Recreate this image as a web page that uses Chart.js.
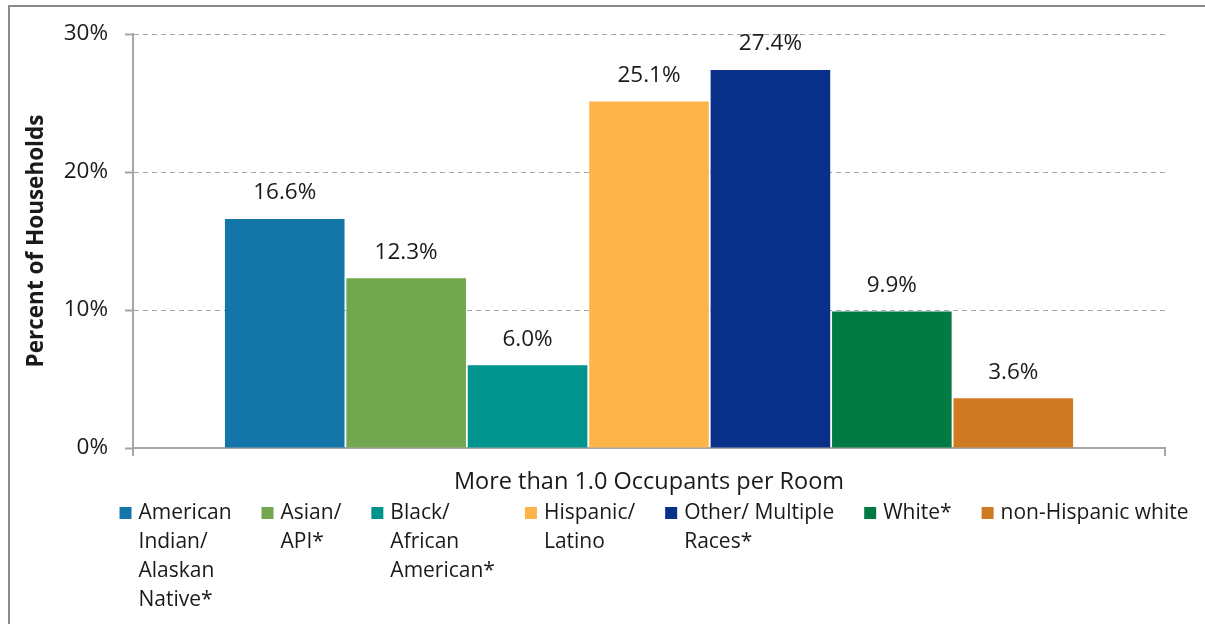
<!DOCTYPE html>
<html>
<head>
<meta charset="utf-8">
<script src="https://cdn.jsdelivr.net/npm/chart.js@4.4.0/dist/chart.umd.min.js"></script>
<style>
  html, body { margin: 0; padding: 0; background: #fff; }
  #wrap { width: 1205px; height: 624px; }
</style>
</head>
<body>
<div id="wrap"><canvas id="myChart" width="1205" height="624"></canvas></div>
<script>
const categories = ['More than 1.0 Occupants per Room']
const groups = [
  'American Indian/ Alaskan Native*',
  'Asian/ API*',
  'Black/ African American*',
  'Hispanic/ Latino',
  'Other/ Multiple Races*',
  'White*',
  'non-Hispanic white',
]
// legend text as it wraps in the original
const legendLines = [
  ['American', 'Indian/', 'Alaskan', 'Native*'],
  ['Asian/', 'API*'],
  ['Black/', 'African', 'American*'],
  ['Hispanic/', 'Latino'],
  ['Other/ Multiple', 'Races*'],
  ['White*'],
  ['non-Hispanic white'],
]
const values = [16.6, 12.3, 6.0, 25.1, 27.4, 9.9, 3.6]
const colors = ['#1475A9', '#72A74F', '#00948F', '#FDB54A', '#0A318A', '#017A44', '#D07A24']
const yMin = 0
const yMax = 30
const yStep = 10

const FONT = '"Open Sans", Lato, sans-serif'
const TEXT = '#1a1a1a'
const GRID = '#a6a6a6'

// light frame round the chart
const framePlugin = {
  id: 'frame',
  beforeDraw(chart) {
    const ctx = chart.ctx
    ctx.save()
    ctx.fillStyle = '#fff'
    ctx.fillRect(0, 0, chart.width, chart.height)
    ctx.strokeStyle = '#8c8c8c'
    ctx.lineWidth = 2
    ctx.strokeRect(9, 6, chart.width + 50, chart.height + 50)
    ctx.restore()
  },
}

// value labels above the bars
const barLabels = {
  id: 'barLabels',
  afterDatasetsDraw(chart) {
    const ctx = chart.ctx
    ctx.save()
    ctx.font = '22.5px ' + FONT
    ctx.fillStyle = TEXT
    ctx.textAlign = 'center'
    ctx.textBaseline = 'middle'
    chart.data.datasets.forEach((ds, i) => {
      const meta = chart.getDatasetMeta(i)
      meta.data.forEach((bar, j) => {
        ctx.fillText(ds.data[j].toFixed(1) + '%', bar.x, bar.y - 26)
      })
    })
    ctx.restore()
  },
}

// legend with wrapped labels, laid out in a row under the axis
const wrapLegend = {
  id: 'wrapLegend',
  afterDraw(chart) {
    const ctx = chart.ctx
    const box = 12
    const boxGap = 7
    const itemGap = 30
    const lineH = 29
    const top = 513
    ctx.save()
    ctx.font = '21px ' + FONT
    ctx.textBaseline = 'middle'
    ctx.textAlign = 'left'
    const widths = legendLines.map((lines) => Math.max(...lines.map((l) => ctx.measureText(l).width)))
    const total = widths.reduce((a, w) => a + box + boxGap + w, 0) + itemGap * (widths.length - 1)
    const mid = (chart.chartArea.left + chart.chartArea.right) / 2 + 5
    let x = mid - total / 2
    chart.data.datasets.forEach((ds, i) => {
      ctx.fillStyle = ds.backgroundColor
      ctx.fillRect(x, top - box / 2, box, box)
      ctx.fillStyle = TEXT
      legendLines[i].forEach((line, k) => {
        ctx.fillText(line, x + box + boxGap, top + k * lineH)
      })
      x += box + boxGap + widths[i] + itemGap
    })
    ctx.restore()
  },
}

const ctx = document.getElementById('myChart').getContext('2d')
const chart = new Chart(ctx, {
  type: 'bar',
  data: {
    labels: categories,
    datasets: groups.map((name, i) => ({
      label: name,
      data: [values[i]],
      backgroundColor: colors[i],
      borderWidth: 0,
      barPercentage: 0.985,
      categoryPercentage: 0.8236,
    })),
  },
  options: {
    responsive: false,
    animation: false,
    devicePixelRatio: 1,
    layout: { padding: { left: 10, right: 40, top: 34, bottom: 126 } },
    plugins: {
      legend: { display: false },
      tooltip: { enabled: false },
    },
    scales: {
      x: {
        afterFit(scale) { scale.height = 50 },
        grid: { display: true, drawOnChartArea: false, drawTicks: true, tickLength: 8, color: GRID, lineWidth: 2 },
        border: { display: true, color: GRID, width: 2 },
        ticks: { color: TEXT, font: { family: FONT, size: 23.5 }, padding: 12 },
      },
      y: {
        min: yMin,
        max: yMax,
        afterFit(scale) { scale.width = 123 },
        ticks: {
          stepSize: yStep,
          color: TEXT,
          font: { family: FONT, size: 22.5 },
          padding: 17,
          callback: (v) => v + '%',
        },
        grid: { color: GRID, lineWidth: 1, tickLength: 8, tickColor: GRID, tickWidth: 2, borderDash: [5, 4] },
        border: { display: true, color: GRID, width: 2, dash: [5, 4] },
        title: {
          display: true,
          text: 'Percent of Households',
          color: TEXT,
          font: { family: FONT, size: 22.5, weight: 'bold' },
          padding: { top: 13, bottom: 0 },
        },
      },
    },
  },
  plugins: [framePlugin, barLabels, wrapLegend],
})
</script>
</body>
</html>
